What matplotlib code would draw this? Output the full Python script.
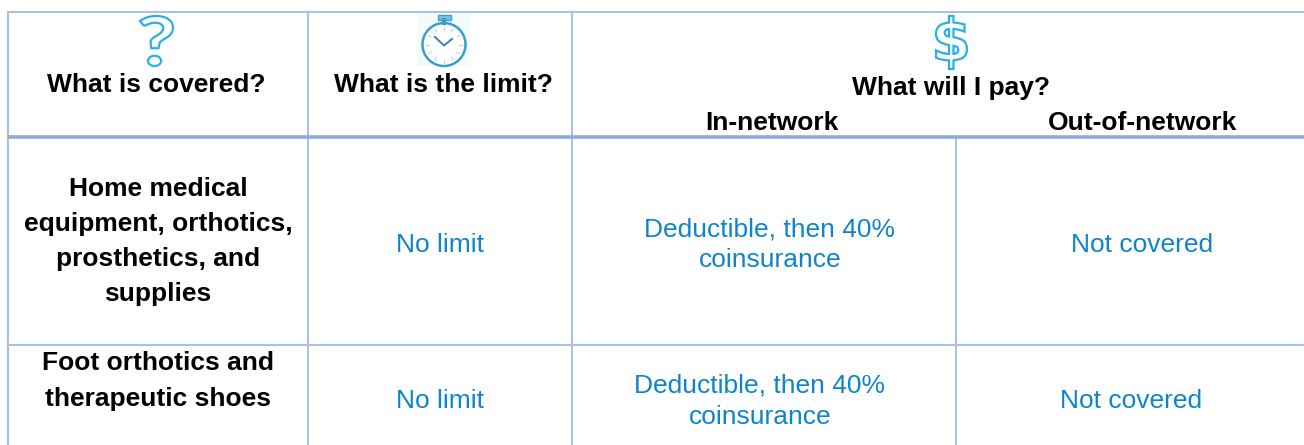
import matplotlib
matplotlib.use('Agg')
import numpy as np
import matplotlib.pyplot as plt
from matplotlib.font_manager import FontProperties
from matplotlib.patches import Circle, PathPatch, Rectangle
from matplotlib.textpath import TextPath
from matplotlib.transforms import Affine2D

plt.rcParams['font.family'] = ['Liberation Sans', 'DejaVu Sans']

headers = ['What is covered?', 'What is the limit?', 'What will I pay?']
subheaders = ['In-network', 'Out-of-network']
row1 = ['Home medical\nequipment, orthotics,\nprosthetics, and\nsupplies', 'No limit',
        'Deductible, then 40%\ncoinsurance', 'Not covered']
row2 = ['Foot orthotics and\ntherapeutic shoes', 'No limit',
        'Deductible, then 40%\ncoinsurance', 'Not covered']

blue = '#0f85c9'
line = '#adc0e4'
thick = '#8eaadb'
icon = '#2ab0e6'
watch = '#3c9fc9'

fig = plt.figure(figsize=(13.04, 4.45), dpi=100)
ax = fig.add_axes([0, 0, 1, 1])
ax.set_xlim(0, 1304)
ax.set_ylim(445, 0)
ax.axis('off')


def glyph_icon(s, family, x0, x1, y0, y1):
    # outlined glyph stretched to fit a pixel box
    tp = TextPath((0, 0), s, size=40, prop=FontProperties(family=family, weight='bold'))
    b = tp.get_extents()
    tr = (Affine2D().translate(-b.x0, -b.y0)
          .scale((x1 - x0) / b.width, -(y1 - y0) / b.height)
          .translate(x0, y1))
    ax.add_patch(PathPatch(tp, transform=tr + ax.transData, fc='white', ec=icon, lw=1.6))


def cell(s, x, y, step, bold=False):
    # y is the baseline of the first line, lines are placed one by one
    for i, part in enumerate(s.split('\n')):
        ax.text(x, y + i * step, part, ha='center', va='baseline', fontsize=19,
                fontweight='bold' if bold else 'normal', color='black' if bold else blue)


# grid lines
ax.plot([8, 1304], [12, 12], color=line, lw=1.5, solid_capstyle='butt')
ax.plot([8, 1304], [344.5, 344.5], color=line, lw=1.5, solid_capstyle='butt')
ax.plot([8, 8], [11, 445], color=line, lw=1.5, solid_capstyle='butt')
ax.plot([307.7, 307.7], [12, 445], color=line, lw=1.5, solid_capstyle='butt')
ax.plot([572, 572], [12, 445], color=line, lw=1.5, solid_capstyle='butt')
ax.plot([956, 956], [138, 445], color=line, lw=1.5, solid_capstyle='butt')
ax.plot([8, 1304], [136.7, 136.7], color=thick, lw=2.6, solid_capstyle='butt')

# header text
cell(headers[0], 156, 92, 0, True)
cell(headers[1], 443.5, 92, 0, True)
cell(headers[2], 951, 95, 0, True)
cell(subheaders[0], 771.5, 129.5, 0, True)
cell(subheaders[1], 1143, 129.5, 0, True)

# row 1
cell(row1[0], 158, 196, 35, True)
cell(row1[1], 440, 252, 0)
cell(row1[2], 770, 236, 31)
cell(row1[3], 1142, 252, 0)

# row 2
cell(row2[0], 158, 370.5, 35.5, True)
cell(row2[1], 440, 408.5, 0)
cell(row2[2], 760, 393, 31)
cell(row2[3], 1131.5, 408.5, 0)

# icons
glyph_icon('?', 'Lato', 140, 173, 16, 66)
glyph_icon('$', 'DejaVu Sans', 936, 967, 16, 69)

ax.add_patch(Rectangle((417, 13), 53, 53, fc='#f3fbfe', ec='none'))
ax.add_patch(Circle((444, 44.5), 21.5, fc='white', ec=watch, lw=1.8))
ax.add_patch(Rectangle((437.5, 15), 13.5, 5, fc='#7cc4e0', ec=watch, lw=1))
ax.plot([444, 444], [20, 23], color=watch, lw=3)
ax.plot([435, 444, 452], [37, 45.5, 39], color='#2f86b8', lw=1.4)
for a in np.arange(0, 360, 30):
    ca, sa = np.cos(np.radians(a)), np.sin(np.radians(a))
    ax.plot([444 + 15 * ca, 444 + 18 * ca], [44.5 + 15 * sa, 44.5 + 18 * sa], color='#b5d8e8', lw=0.8)

fig.savefig('out.png', dpi=100, facecolor='white')
